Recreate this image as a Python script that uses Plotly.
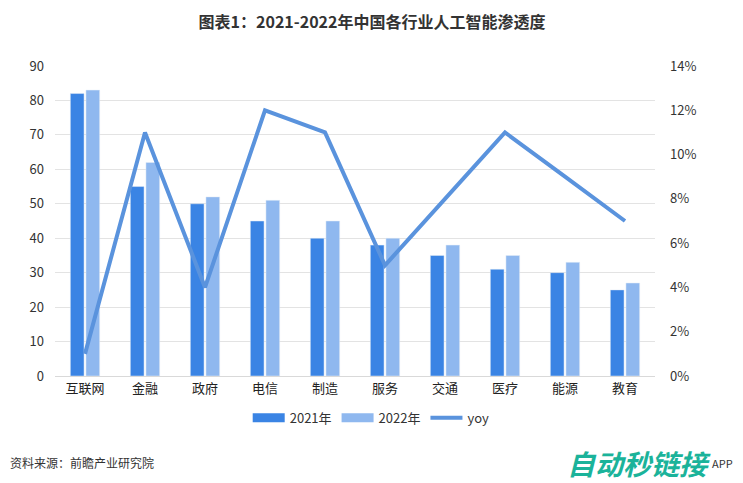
import plotly.graph_objects as go

categories = ["互联网", "金融", "政府", "电信", "制造", "服务", "交通", "医疗", "能源", "教育"]
values_2021 = [82, 55, 50, 45, 40, 38, 35, 31, 30, 25]
values_2022 = [83, 62, 52, 51, 45, 40, 38, 35, 33, 27]
yoy = [0.01, 0.11, 0.04, 0.12, 0.11, 0.05, 0.08, 0.11, 0.09, 0.07]

FONT = "Noto Sans CJK SC"
C21, C22, CLINE = "#3A84E4", "#8FB8EF", "#5A93DD"

fig = go.Figure()
fig.add_trace(go.Bar(x=categories, y=values_2021, name="2021年", marker_color=C21, showlegend=False))
fig.add_trace(go.Bar(x=categories, y=values_2022, name="2022年", marker_color=C22, showlegend=False))
fig.add_trace(go.Scatter(x=categories, y=yoy, name="yoy", mode="lines", yaxis="y2",
                         line=dict(color=CLINE, width=4), showlegend=False))

# legend-only entries, drawn as wide blocks like the reference
fig.add_trace(go.Scatter(x=[None], y=[None], name="2021年", mode="lines", line=dict(color=C21, width=9)))
fig.add_trace(go.Scatter(x=[None], y=[None], name="2022年", mode="lines", line=dict(color=C22, width=9)))
fig.add_trace(go.Scatter(x=[None], y=[None], name="yoy", mode="lines", line=dict(color=CLINE, width=4)))

fig.update_layout(
    width=743, height=483,
    margin=dict(l=47, r=96, t=58, b=115),
    paper_bgcolor="white", plot_bgcolor="white",
    font=dict(family=FONT, size=13, color="#333333"),
    title=dict(text="<b>图表1：2021-2022年中国各行业人工智能渗透度</b>", x=0.49, xanchor="center",
               y=0.971, yanchor="middle", font=dict(size=16, color="#333333")),
    barmode="group", bargap=0.48, bargroupgap=0.12,
    showlegend=True,
    legend=dict(orientation="h", x=0.527, xanchor="center", y=-0.135, yanchor="middle",
                font=dict(size=13), traceorder="normal", itemwidth=32),
    xaxis=dict(showline=True, linecolor="#d9d9d9", ticks="", tickfont=dict(size=13, color="#222")),
    yaxis=dict(range=[0, 90], dtick=10, showgrid=True, gridcolor="#e3e3e3", zeroline=False,
               ticklabelstandoff=10, tickfont=dict(size=13)),
    yaxis2=dict(range=[0, 0.14], dtick=0.02, tickformat=".0%", overlaying="y", side="right",
                showgrid=False, zeroline=False, ticklabelstandoff=14, tickfont=dict(size=13)),
)

fig.add_annotation(text="资料来源：前瞻产业研究院", x=-0.078, xref="paper", xanchor="left",
                   y=-0.28, yref="paper", yanchor="middle", showarrow=False,
                   font=dict(size=12, color="#333333"))
fig.add_annotation(text="<b><i>自动秒链接</i></b>", x=0.85, xref="paper", xanchor="left",
                   y=-0.28, yref="paper", yanchor="middle", showarrow=False,
                   font=dict(size=28, color="#1BB39A"))
fig.add_annotation(text="APP", x=1.133, xref="paper", xanchor="right",
                   y=-0.28, yref="paper", yanchor="middle", showarrow=False,
                   font=dict(size=11, color="#333333"))

fig.write_html("out.html")
